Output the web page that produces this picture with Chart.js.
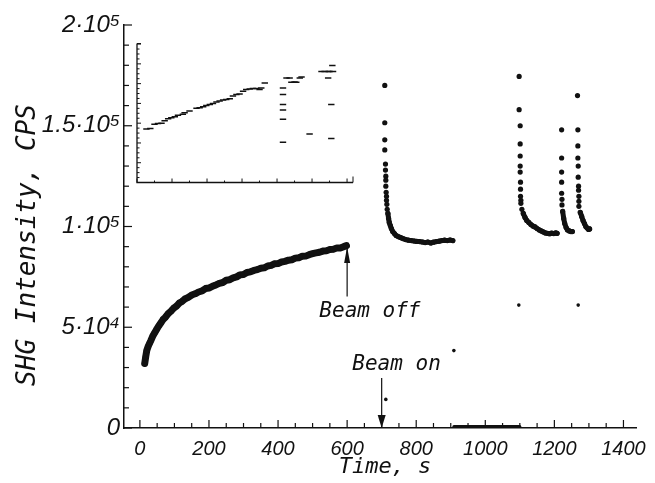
<!DOCTYPE html>
<html><head><meta charset="utf-8">
<script src="https://cdn.jsdelivr.net/npm/chart.js@4.4.0/dist/chart.umd.min.js"></script>
<style>
html,body{margin:0;padding:0;background:#fff;}
#wrap{position:relative;width:655px;height:483px;overflow:hidden;}
#main{position:absolute;left:0;top:0;}
#inset{position:absolute;left:130px;top:38px;}
</style></head><body>
<div id="wrap"><canvas id="main" width="655" height="483"></canvas><canvas id="inset" width="230" height="150"></canvas></div>
<script>
// ---------- data (time in s, SHG intensity in CPS) ----------
const growthTime = [14,17,20,24,28,32,37,42,48,54,60,67,74,82,90,98,106,114,122,130,140,150,160,170,180,190,200,210,220,230,240,250,260,270,280,290,300,310,320,330,340,350,360,370,380,390,400,410,420,430,440,450,460,470,480,490,500,510,520,530,540,550,560,570,580,590,598];
const growthCps  = [32000,35500,38500,40500,42000,43500,45500,47000,48800,50500,52000,53800,55000,56800,58000,59500,60500,62000,62800,64000,64800,66000,66600,67500,68000,69200,69500,70300,71000,71800,72200,73300,73600,74500,75000,76000,76200,77200,77500,78200,78600,79300,79500,80400,80700,81500,81600,82400,82700,83300,83500,84300,84500,85200,85300,86000,86500,86900,87200,87800,88000,88600,88700,89300,89300,90000,90500];

const recovery1Time = [709,709,709,709,711,711,712,712,712,713,714,714,715,716,718,720,722,725,728,732,737,742,748,755,762,770,778,786,794,802,810,818,826,834,842,850,858,866,874,882,890,898,906];
const recovery1Cps  = [170000,151500,143000,138000,131000,128000,125000,123000,120000,117000,115000,113000,111000,108500,106500,104000,102000,100500,99000,97500,96500,95500,95000,94500,94000,93500,93200,93000,92800,92600,92500,92300,92000,92300,91800,92200,92500,92700,93000,93200,93000,93300,93000];

const beamOffTime = [909,930,950,970,990,1010,1030,1050,1070,1090,1100];
const beamOffCps  = [800,800,800,800,800,800,800,800,800,800,800];

const recovery2Time = [1098,1098,1101,1101,1101,1101,1101,1102,1102,1102,1103,1103,1106,1110,1115,1120,1126,1132,1138,1144,1150,1156,1162,1168,1174,1180,1186,1192,1198,1204,1208];
const recovery2Cps  = [174500,158000,150000,141000,135000,130000,127000,122000,118500,115000,113000,111500,108500,106500,104500,103000,102000,101000,100200,99800,99000,98300,97800,97300,96800,96600,96400,96700,96500,96800,96600];

const recovery3Time = [1221,1221,1221,1221,1221,1222,1222,1224,1227,1230,1234,1238,1243,1248,1252];
const recovery3Cps  = [148000,134000,127000,122000,116500,113500,110700,107500,104000,101500,99500,98300,97800,97500,97500];

const recovery4Time = [1267,1268,1268,1268,1269,1269,1270,1270,1271,1271,1271,1275,1279,1283,1287,1291,1295,1299,1302];
const recovery4Cps  = [165000,148000,140000,134000,130000,124500,120000,118000,115000,112500,110000,107000,105000,103000,101500,100000,99200,98500,98800];

const strayTime = [712,909,1097,1269];
const strayCps  = [14200,38400,61000,61000];

// inset (arbitrary units)
const insetX = [0.27,0.38,0.50,0.60,0.70,0.79,0.89,0.98,1.08,1.17,1.31,1.36,1.50,1.70,1.79,1.89,1.98,2.08,2.17,2.27,2.36,2.46,2.55,2.65,2.74,2.84,2.93,3.03,3.12,3.22,3.31,3.41,3.50,3.55,3.65,4.17,4.17,4.17,4.17,4.17,4.17,4.27,4.36,4.41,4.50,4.55,4.65,4.70,4.93,5.27,5.36,5.46,5.50,5.60,5.46,5.58,5.55,5.55];
const insetY = [2.70,2.73,2.95,2.98,3.00,3.12,3.23,3.28,3.33,3.40,3.45,3.53,3.62,3.75,3.78,3.83,3.90,3.95,4.00,4.07,4.12,4.17,4.20,4.23,4.37,4.45,4.48,4.62,4.70,4.73,4.75,4.75,4.70,4.78,5.03,2.03,3.20,3.67,3.95,4.45,4.78,5.28,5.28,5.07,5.08,5.07,5.28,5.33,2.45,5.62,5.62,5.62,5.62,5.62,5.28,5.92,3.95,2.23];

// tick values and labels
const xTickValues = [];
for (let v = 0; v <= 1400; v += 50) xTickValues.push(v);
const xTickLabels = {0:'0',200:'200',400:'400',600:'600',800:'800',1000:'1000',1200:'1200',1400:'1400'};
const yTickValues = [];
for (let v = 0; v <= 200000; v += 10000) yTickValues.push(v);
const yTickLabels = {0:'0',50000:'5·10⁴',100000:'1·10⁵',150000:'1.5·10⁵',200000:'2·10⁵'};

const xTitle = 'Time, s';
const yTitle = 'SHG Intensity, CPS';
const beamOffLabel = 'Beam off';
const beamOnLabel = 'Beam on';

// ---------- rendering ----------
const INK = '#111';
const TXT_FONT = 'italic 21px "DejaVu Sans Mono", monospace';
const pts = (t, v) => t.map((x, i) => ({x, y: v[i]}));
const hideSpike = ctx => (ctx.p0.parsed.y > 108000 || ctx.p1.parsed.y > 108000) ? 'rgba(0,0,0,0)' : INK;

function series(data, opts) {
  return Object.assign({
    data, showLine: true, borderColor: INK, backgroundColor: INK,
    pointRadius: 2.6, pointBorderWidth: 0, borderWidth: 5, tension: 0,
    borderJoinStyle: 'round', borderCapStyle: 'round'
  }, opts || {});
}

function arrow(ctx, x, yTail, yTip, headLen, headHalf) {
  ctx.beginPath(); ctx.moveTo(x, yTail); ctx.lineTo(x, yTip); ctx.stroke();
  const dir = yTip > yTail ? 1 : -1;
  ctx.beginPath();
  ctx.moveTo(x, yTip);
  ctx.lineTo(x - headHalf, yTip - dir * headLen);
  ctx.lineTo(x + headHalf, yTip - dir * headLen);
  ctx.closePath(); ctx.fill();
}

const mainDecor = {
  id: 'mainDecor',
  afterDraw(chart) {
    const {ctx, chartArea: a, scales: {x, y}} = chart;
    ctx.save();
    ctx.strokeStyle = INK; ctx.fillStyle = INK; ctx.lineWidth = 1.2;
    xTickValues.forEach(v => {
      const px = x.getPixelForValue(v), len = v % 200 === 0 ? 8 : 5;
      ctx.beginPath(); ctx.moveTo(px, a.bottom); ctx.lineTo(px, a.bottom - len); ctx.stroke();
    });
    yTickValues.forEach(v => {
      const py = y.getPixelForValue(v), len = v % 50000 === 0 ? 8 : 5;
      ctx.beginPath(); ctx.moveTo(a.left, py); ctx.lineTo(a.left + len, py); ctx.stroke();
    });
    // annotations
    arrow(ctx, x.getPixelForValue(600), y.getPixelForValue(65300), y.getPixelForValue(89800), 16, 3);
    arrow(ctx, x.getPixelForValue(700), y.getPixelForValue(24800), y.getPixelForValue(0), 13, 4);
    ctx.font = TXT_FONT; ctx.textAlign = 'center'; ctx.textBaseline = 'middle';
    ctx.fillText(beamOffLabel, x.getPixelForValue(666), y.getPixelForValue(57600));
    ctx.fillText(beamOnLabel, x.getPixelForValue(743), y.getPixelForValue(31300));
    // axis titles
    ctx.font = 'italic 22px "DejaVu Sans Mono", monospace';
    ctx.fillText(xTitle, 385, 467);
    ctx.save();
    ctx.translate(28, 245); ctx.rotate(-Math.PI / 2);
    ctx.font = 'italic 26px "DejaVu Sans Mono", monospace';
    ctx.fillText(yTitle, 0, 0);
    ctx.restore();
    ctx.restore();
  }
};

new Chart(document.getElementById('main'), {
  type: 'scatter',
  data: {
    datasets: [
      series(pts(growthTime, growthCps), {borderWidth: 7, pointRadius: 3}),
      series(pts(recovery1Time, recovery1Cps), {segment: {borderColor: hideSpike}}),
      series(pts(beamOffTime, beamOffCps), {borderWidth: 3, pointRadius: 0}),
      series(pts(recovery2Time, recovery2Cps), {segment: {borderColor: hideSpike}}),
      series(pts(recovery3Time, recovery3Cps), {segment: {borderColor: hideSpike}}),
      series(pts(recovery4Time, recovery4Cps), {segment: {borderColor: hideSpike}}),
      series(pts(strayTime, strayCps), {showLine: false, pointRadius: 1.8})
    ]
  },
  options: {
    responsive: false, animation: false,
    layout: {padding: {top: 25, right: 12, left: 0, bottom: 0}},
    plugins: {legend: {display: false}, tooltip: {enabled: false}},
    scales: {
      x: {
        type: 'linear', min: -46, max: 1437,
        afterBuildTicks: s => { s.ticks = xTickValues.map(v => ({value: v})); },
        afterFit: s => { s.height = 55; },
        grid: {display: false, drawTicks: false},
        border: {display: true, color: INK, width: 1.5},
        ticks: {
          autoSkip: false, maxRotation: 0, padding: 9, color: INK,
          font: {family: '"Liberation Sans", Arial, sans-serif', size: 20, style: 'italic'},
          callback: v => xTickLabels[v] !== undefined ? xTickLabels[v] : ''
        }
      },
      y: {
        type: 'linear', min: 0, max: 200000,
        afterBuildTicks: s => { s.ticks = yTickValues.map(v => ({value: v})); },
        afterFit: s => { s.width = 124; },
        grid: {display: false, drawTicks: false},
        border: {display: true, color: INK, width: 1.5},
        ticks: {
          autoSkip: false, padding: 4, color: INK,
          font: {family: '"Liberation Sans", Arial, sans-serif', size: 24, style: 'italic'},
          callback: v => yTickLabels[v] !== undefined ? yTickLabels[v] : ''
        }
      }
    }
  },
  plugins: [mainDecor]
});

// ---------- inset ----------
const insetDecor = {
  id: 'insetDecor',
  afterDraw(chart) {
    const {ctx, chartArea: a, scales: {x, y}} = chart;
    ctx.save();
    ctx.strokeStyle = INK; ctx.lineWidth = 1.3;
    ctx.beginPath(); ctx.moveTo(a.left, a.top); ctx.lineTo(a.left, a.bottom); ctx.lineTo(a.right, a.bottom); ctx.stroke();
    ctx.lineWidth = 1;
    for (let v = 0; v <= 7.001; v += 0.25) {
      const py = y.getPixelForValue(v), len = Math.abs(v - Math.round(v)) < 1e-6 ? 4 : 2.5;
      ctx.beginPath(); ctx.moveTo(a.left, py); ctx.lineTo(a.left + len, py); ctx.stroke();
    }
    for (let v = 0; v <= 6.001; v += 0.5) {
      const px = x.getPixelForValue(v), len = Math.abs(v - Math.round(v)) < 1e-6 ? 4 : 2;
      ctx.beginPath(); ctx.moveTo(px, a.bottom); ctx.lineTo(px, a.bottom - len); ctx.stroke();
    }
    ctx.beginPath(); ctx.moveTo(a.right, a.bottom); ctx.lineTo(a.right, a.bottom - 6); ctx.stroke();
    ctx.beginPath(); ctx.moveTo(a.left, a.top); ctx.lineTo(a.left + 4, a.top); ctx.stroke();
    ctx.restore();
  }
};

new Chart(document.getElementById('inset'), {
  type: 'scatter',
  data: {datasets: [{
    data: pts(insetX, insetY), pointStyle: 'line', pointRadius: 3.2,
    borderColor: INK, backgroundColor: INK, pointBorderWidth: 1.5
  }]},
  options: {
    responsive: false, animation: false,
    layout: {padding: {left: 7, top: 5, right: 7, bottom: 4}},
    plugins: {legend: {display: false}, tooltip: {enabled: false}},
    scales: {
      x: {type: 'linear', min: 0, max: 6.17, display: false},
      y: {type: 'linear', min: 0, max: 7.03, display: false}
    }
  },
  plugins: [insetDecor]
});
</script>
</body></html>
